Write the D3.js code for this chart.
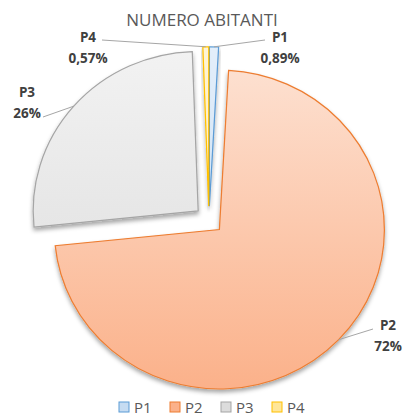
<!DOCTYPE html>
<html>
<head>
<meta charset="utf-8">
<script src="https://cdn.jsdelivr.net/npm/d3@7"></script>
<style>
  body { margin: 0; background: #fff; }
  svg { display: block; font-family: "Open Sans", "Liberation Sans", sans-serif; }
</style>
</head>
<body>
<script>
// data
const categories = ['P1', 'P2', 'P3', 'P4'];
const values = [0.89, 72.5, 26.04, 0.57];
const pctLabels = ['0,89%', '72%', '26%', '0,57%'];
const title = 'NUMERO ABITANTI';

const W = 405, H = 415;
const CX = 209, CY = 220, R = 161, EXPLODE = 14;
const SX = 1.025, SY = 0.99;   // the source picture is slightly stretched

const fills = {
  P1: ['#e3eefa', '#c6dcf2', '#5b9bd5'],
  P2: ['#fde0d0', '#fbb18a', '#ed7d31'],
  P3: ['#f2f2f2', '#dcdcdc', '#a5a5a5'],
  P4: ['#fff5d6', '#ffe699', '#ffc000']
};

// label anchor (centre of the two-line label) and where the leader line starts
const labelPos = {
  P1: { x: 280, y: 37, lx: 265, ly: 40 },
  P2: { x: 388, y: 325, lx: 373, ly: 329 },
  P3: { x: 27, y: 92, lx: 43, ly: 117 },
  P4: { x: 88, y: 37, lx: 102, ly: 40 }
};

const svg = d3.select('body').append('svg')
  .attr('width', W)
  .attr('height', H);

const defs = svg.append('defs');
categories.forEach(c => {
  const g = defs.append('linearGradient')
    .attr('id', 'grad-' + c)
    .attr('gradientUnits', 'userSpaceOnUse')
    .attr('x1', 0).attr('y1', -R).attr('x2', 0).attr('y2', R);
  g.append('stop').attr('offset', '0%').attr('stop-color', fills[c][0]);
  g.append('stop').attr('offset', '100%').attr('stop-color', fills[c][1]);
});
const shadow = defs.append('filter').attr('id', 'shadow')
  .attr('x', '-20%').attr('y', '-20%').attr('width', '140%').attr('height', '140%');
shadow.append('feDropShadow')
  .attr('dx', 0).attr('dy', 3).attr('stdDeviation', 2.2)
  .attr('flood-color', '#000').attr('flood-opacity', 0.35);

svg.append('text')
  .attr('x', 202)
  .attr('y', 26)
  .attr('text-anchor', 'middle')
  .attr('fill', '#595959')
  .style('font-size', '17px')
  .text(title);

const pie = d3.pie().sort(null).value(d => d.value);
const arcs = pie(categories.map((c, i) => ({ cat: c, value: values[i], label: pctLabels[i] })));
const arc = d3.arc().innerRadius(0).outerRadius(R);

const offset = d => {
  const a = (d.startAngle + d.endAngle) / 2;
  return [EXPLODE * Math.sin(a), -EXPLODE * Math.cos(a)];
};

const chart = svg.append('g').attr('transform', `translate(${CX},${CY}) scale(${SX},${SY})`);

chart.selectAll('path.slice').data(arcs)
  .enter().append('path')
  .attr('class', 'slice')
  .attr('transform', d => `translate(${offset(d)})`)
  .attr('d', arc)
  .attr('fill', d => `url(#grad-${d.data.cat})`)
  .attr('stroke', d => fills[d.data.cat][2])
  .attr('stroke-width', 1.2)
  .attr('filter', 'url(#shadow)');

// leader lines and data labels
const labels = svg.append('g');
arcs.forEach(d => {
  const p = labelPos[d.data.cat];
  const a = (d.startAngle + d.endAngle) / 2;
  const [ox, oy] = offset(d);
  const ex = CX + SX * (ox + R * Math.sin(a));
  const ey = CY + SY * (oy - R * Math.cos(a));
  labels.append('path')
    .attr('d', d3.line()([[p.lx, p.ly], [ex, ey]]))
    .attr('fill', 'none')
    .attr('stroke', '#a6a6a6')
    .attr('stroke-width', 1);
  const t = labels.append('text')
    .attr('text-anchor', 'middle')
    .attr('fill', '#404040')
    .style('font-size', '13.5px')
    .style('font-weight', 'bold');
  t.append('tspan').attr('x', p.x).attr('y', p.y + 5).text(d.data.cat);
  t.append('tspan').attr('x', p.x).attr('y', p.y + 26).text(d.data.label);
});

// legend
const legend = svg.append('g').attr('transform', 'translate(0,407)');
const legendX = d3.scalePoint().domain(categories).range([119, 272]);
const item = legend.selectAll('g').data(categories).enter().append('g')
  .attr('transform', c => `translate(${legendX(c)},0)`);
item.append('rect')
  .attr('x', 0).attr('y', -5)
  .attr('width', 10).attr('height', 10)
  .attr('fill', c => fills[c][1])
  .attr('stroke', c => fills[c][2])
  .attr('stroke-width', 1);
item.append('text')
  .attr('x', 15).attr('y', 5.5)
  .attr('fill', '#595959')
  .style('font-size', '15px')
  .text(c => c);
</script>
</body>
</html>
